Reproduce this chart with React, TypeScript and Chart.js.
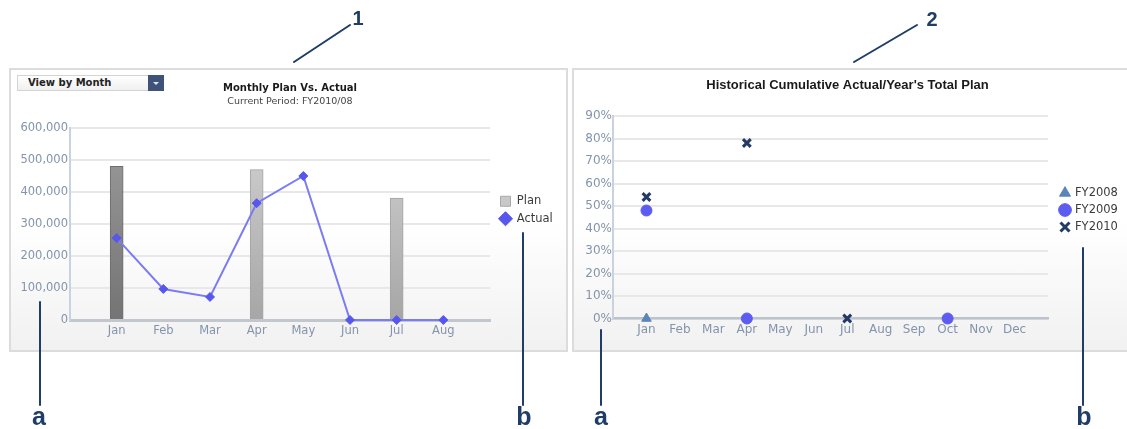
import React, { useEffect, useRef } from 'react';
import { Chart, registerables } from 'chart.js';

Chart.register(...registerables);

// ---------- Chart 1 data: Monthly Plan Vs. Actual ----------
const monthLabels1 = ['', 'Jan', 'Feb', 'Mar', 'Apr', 'May', 'Jun', 'Jul', 'Aug', ''];
const planValues = [null, 480000, null, null, 470000, null, null, 381000, null, null];
const actualValues = [null, 256000, 97000, 72000, 365000, 450000, 0, 0, 0, null];
const yMin1 = 0;
const yMax1 = 600000;
const yStep1 = 100000;

// ---------- Chart 2 data: Historical Cumulative Actual/Year's Total Plan ----------
const monthLabels2 = ['', 'Jan', 'Feb', 'Mar', 'Apr', 'May', 'Jun', 'Jul', 'Aug', 'Sep', 'Oct', 'Nov', 'Dec', ''];
const fy2008Values = [null, 0, null, null, null, null, null, null, null, null, null, null, null, null];
const fy2009Values = [null, 48, null, null, 0, null, null, null, null, null, 0, null, null, null];
const fy2010Values = [null, 54, null, null, 78, null, null, 0, null, null, null, null, null, null];
const yMin2 = 0;
const yMax2 = 90;
const yStep2 = 10;

// styles (not data)
const planBarShade = ['', 'dark', '', '', 'light', '', '', 'light', '', ''];
const TICK_COLOR = '#8494ab';
const GRID_COLOR = '#e8e8e8';
const NAVY = '#1f3d66';

// Moves the legend to a fixed x and shifts title/subtitle boxes horizontally.
const boxPlacer = {
  id: 'boxPlacer',
  afterLayout(chart: any, _args: any, opts: any) {
    const lg = chart.legend;
    if (lg && typeof opts.legendLeft === 'number') {
      const w = lg.width;
      lg.left = opts.legendLeft;
      lg.right = opts.legendLeft + w;
    }
    if (typeof opts.titleShift === 'number') {
      for (const b of chart.boxes) {
        if (b !== lg && b.options && typeof b.options.text === 'string' && b.options.text && !b.axis) {
          b.left += opts.titleShift;
          b.right += opts.titleShift;
        }
      }
    }
  },
};

function barFill(ctx: any) {
  const chart = ctx.chart;
  const area = chart.chartArea;
  const dark = planBarShade[ctx.dataIndex] === 'dark';
  if (!area) return dark ? '#888888' : '#c4c4c4';
  const g = chart.ctx.createLinearGradient(0, area.top, 0, area.bottom);
  if (dark) {
    g.addColorStop(0, '#9c9c9c');
    g.addColorStop(1, '#747474');
  } else {
    g.addColorStop(0, '#d2d2d2');
    g.addColorStop(1, '#a6a6a6');
  }
  return g;
}

function ChartOne() {
  const ref = useRef<HTMLCanvasElement | null>(null);
  useEffect(() => {
    if (!ref.current) return;
    const chart = new Chart(ref.current, {
      type: 'bar',
      data: {
        labels: monthLabels1,
        datasets: [
          {
            type: 'bar',
            label: 'Plan',
            data: planValues as any,
            order: 2,
            barThickness: 13,
            backgroundColor: barFill as any,
            borderColor: (c: any) => (planBarShade[c.dataIndex] === 'dark' ? '#6e6e6e' : '#a4a4a4'),
            borderWidth: 1,
            borderSkipped: 'bottom',
          } as any,
          {
            type: 'line',
            label: 'Actual',
            data: actualValues as any,
            order: 1,
            borderColor: '#7b7bf4',
            borderWidth: 2,
            tension: 0,
            pointStyle: 'rectRot',
            pointRadius: 4.5,
            pointBackgroundColor: '#5757ee',
            pointBorderColor: '#5757ee',
            pointBorderWidth: 1,
            clip: false as any,
          } as any,
        ],
      },
      options: {
        animation: false,
        responsive: false,
        events: [],
        layout: { padding: { left: 0, right: 15, top: 0, bottom: 0 } },
        scales: {
          x: {
            type: 'category',
            offset: false,
            grid: { display: false, drawTicks: false },
            border: { display: true, color: '#c2c6cd', width: 3 },
            ticks: {
              autoSkip: false,
              maxRotation: 0,
              padding: 4,
              color: TICK_COLOR,
              font: { family: 'DejaVu Sans', size: 11.5 },
            },
            afterFit: (s: any) => { s.height = 28; },
          },
          y: {
            min: yMin1,
            max: yMax1,
            ticks: {
              stepSize: yStep1,
              padding: 2,
              color: TICK_COLOR,
              font: { family: 'DejaVu Sans', size: 11.5 },
              callback: (v: any) => Number(v).toLocaleString('en-US'),
            },
            grid: { color: GRID_COLOR, lineWidth: 2, drawTicks: false },
            border: { display: true, color: '#c9d3df', width: 2 },
            afterFit: (s: any) => { s.width = 58; },
          },
        },
        plugins: {
          tooltip: { enabled: false },
          title: {
            display: true,
            text: 'Monthly Plan Vs. Actual',
            color: '#1a1a1a',
            font: { family: 'DejaVu Sans', size: 10, weight: 'bold' },
            padding: { top: 10, bottom: 2 },
          },
          subtitle: {
            display: true,
            text: 'Current Period: FY2010/08',
            color: '#444444',
            font: { family: 'DejaVu Sans', size: 9.5 },
            padding: { top: 0, bottom: 20.6 },
          },
          legend: {
            display: true,
            position: 'right',
            reverse: true,
            maxWidth: 60,
            labels: {
              usePointStyle: true,
              boxWidth: 11,
              boxHeight: 10,
              padding: 6,
              color: '#3c3c3c',
              font: { family: 'DejaVu Sans', size: 11.5 },
              generateLabels: (c: any) => {
                const items = (Chart.defaults.plugins.legend.labels as any).generateLabels(c);
                return items.map((it: any) =>
                  it.text === 'Plan'
                    ? { ...it, pointStyle: 'rect', fillStyle: '#c8c8c8', strokeStyle: '#a9a9a9', lineWidth: 1 }
                    : { ...it, pointStyle: 'rectRot', fillStyle: '#5757ee', strokeStyle: '#5757ee', lineWidth: 1 }
                );
              },
            },
          },
          boxPlacer: { legendLeft: 482, titleShift: 9 },
        } as any,
      },
      plugins: [boxPlacer as any],
    });
    return () => chart.destroy();
  }, []);
  return <canvas ref={ref} width={553} height={276} style={{ position: 'absolute', left: 12, top: 72, width: 553, height: 276 }} />;
}

function ChartTwo() {
  const ref = useRef<HTMLCanvasElement | null>(null);
  useEffect(() => {
    if (!ref.current) return;
    const chart = new Chart(ref.current, {
      type: 'line',
      data: {
        labels: monthLabels2,
        datasets: [
          {
            label: 'FY2008',
            data: fy2008Values as any,
            showLine: false,
            pointStyle: 'triangle',
            pointRadius: 5.5,
            pointBackgroundColor: '#5b85b9',
            pointBorderColor: '#5b85b9',
            pointBorderWidth: 1,
            borderColor: '#5b85b9',
            backgroundColor: '#5b85b9',
            clip: false as any,
            order: 3,
          } as any,
          {
            label: 'FY2009',
            data: fy2009Values as any,
            showLine: false,
            pointStyle: 'circle',
            pointRadius: 5.5,
            pointBackgroundColor: '#5c5cf2',
            pointBorderColor: '#5c5cf2',
            pointBorderWidth: 1,
            borderColor: '#5c5cf2',
            backgroundColor: '#5c5cf2',
            clip: false as any,
            order: 2,
          } as any,
          {
            label: 'FY2010',
            data: fy2010Values as any,
            showLine: false,
            pointStyle: 'crossRot',
            pointRadius: 5.5,
            pointBackgroundColor: '#233a64',
            pointBorderColor: '#233a64',
            pointBorderWidth: 3,
            borderColor: '#233a64',
            backgroundColor: '#233a64',
            borderWidth: 3,
            clip: false as any,
            order: 1,
          } as any,
        ],
      },
      options: {
        animation: false,
        responsive: false,
        events: [],
        layout: { padding: { left: 0, right: 15, top: 0, bottom: 0 } },
        scales: {
          x: {
            type: 'category',
            offset: false,
            grid: { display: false, drawTicks: false },
            border: { display: true, color: '#bcc3cd', width: 2.5 },
            ticks: {
              autoSkip: false,
              maxRotation: 0,
              padding: 4.3,
              color: TICK_COLOR,
              font: { family: 'DejaVu Sans', size: 12 },
            },
            afterFit: (s: any) => { s.height = 29.5; },
          },
          y: {
            min: yMin2,
            max: yMax2,
            ticks: {
              stepSize: yStep2,
              padding: 1,
              color: TICK_COLOR,
              font: { family: 'DejaVu Sans', size: 12 },
              callback: (v: any) => `${v}%`,
            },
            grid: { color: GRID_COLOR, lineWidth: 2, drawTicks: false },
            border: { display: true, color: '#c9d3df', width: 2 },
            afterFit: (s: any) => { s.width = 38; },
          },
        },
        plugins: {
          tooltip: { enabled: false },
          title: {
            display: true,
            text: "Historical Cumulative Actual/Year's Total Plan",
            color: '#1a1a1a',
            font: { family: 'Liberation Sans', size: 13, weight: 'bold' },
            padding: { top: 6, bottom: 22.4 },
          },
          legend: {
            display: true,
            position: 'right',
            reverse: true,
            maxWidth: 62,
            labels: {
              usePointStyle: true,
              boxWidth: 8.5,
              boxHeight: 9,
              padding: 5.5,
              color: '#3c3c3c',
              font: { family: 'DejaVu Sans', size: 11.5 },
            },
          },
          boxPlacer: { legendLeft: 480.25, titleShift: 5 },
        } as any,
      },
      plugins: [boxPlacer as any],
    });
    return () => chart.destroy();
  }, []);
  return <canvas ref={ref} width={550} height={276} style={{ position: 'absolute', left: 575, top: 72, width: 550, height: 276 }} />;
}

const panelStyle: React.CSSProperties = {
  position: 'absolute',
  boxSizing: 'border-box',
  border: '2px solid #dcdcdc',
  background: 'linear-gradient(to bottom, #ffffff 0%, #ffffff 55%, #f1f1f1 100%)',
};

const calloutFont = "'Liberation Sans Narrow', 'Liberation Sans', Arial, sans-serif";

export default function App() {
  return (
    <div style={{ position: 'absolute', left: 0, top: 0, width: 1127, height: 429, overflow: 'hidden', background: '#ffffff' }}>
      <div style={{ ...panelStyle, left: 9, top: 68, width: 559, height: 284 }} />
      <div style={{ ...panelStyle, left: 572, top: 68, width: 600, height: 284 }} />
      <ChartOne />
      <ChartTwo />
      <div
        style={{
          position: 'absolute',
          left: 17,
          top: 75,
          width: 147,
          height: 16,
          boxSizing: 'border-box',
          border: '1px solid #d4d4d4',
          background: 'linear-gradient(to bottom, #ffffff, #f0f0f0)',
          fontFamily: 'DejaVu Sans',
          fontWeight: 'bold',
          fontSize: 10,
          lineHeight: '14px',
          color: '#222',
          paddingLeft: 10,
        }}
      >
        View by Month
        <div style={{ position: 'absolute', right: -1, top: -1, width: 16, height: 16, background: '#3e527a' }}>
          <div
            style={{
              position: 'absolute',
              left: 5,
              top: 7,
              width: 0,
              height: 0,
              borderLeft: '3px solid transparent',
              borderRight: '3px solid transparent',
              borderTop: '3px solid #dfe6f0',
            }}
          />
        </div>
      </div>
      <svg width={1127} height={429} style={{ position: 'absolute', left: 0, top: 0, pointerEvents: 'none' }}>
        <g stroke={NAVY} strokeWidth={2} strokeLinecap="round">
          <line x1={294} y1={62} x2={350} y2={25} />
          <line x1={854} y1={62} x2={917} y2={25} />
          <line x1={40} y1={302} x2={40} y2={405} />
          <line x1={523} y1={233} x2={523} y2={405} />
          <line x1={601} y1={330} x2={601} y2={405} />
          <line x1={1083} y1={248} x2={1083} y2={405} />
        </g>
        <g fill={NAVY} fontFamily={calloutFont} fontWeight="bold" textAnchor="middle">
          <text x={358} y={25} fontSize={20}>1</text>
          <text x={932} y={26} fontSize={20}>2</text>
          <text x={39} y={425} fontSize={25}>a</text>
          <text x={524} y={425} fontSize={25}>b</text>
          <text x={601} y={425} fontSize={25}>a</text>
          <text x={1084} y={425} fontSize={25}>b</text>
        </g>
      </svg>
    </div>
  );
}
